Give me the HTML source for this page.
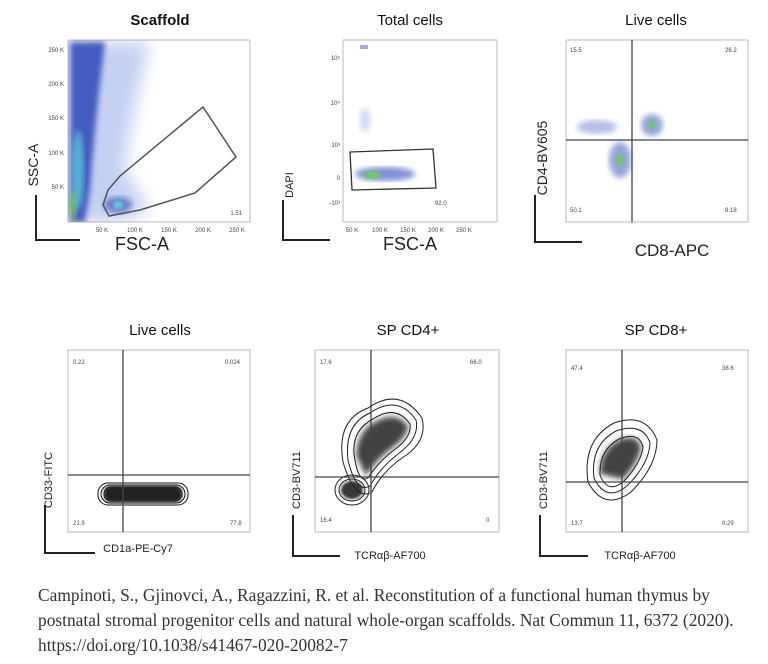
<!DOCTYPE html><html><head><style>
body{margin:0;background:#fff;width:768px;height:664px;overflow:hidden}
svg text{font-family:"Liberation Sans",sans-serif}
.cap{position:absolute;left:38px;top:583px;width:730px;font-family:"Liberation Serif",serif;font-size:17.4px;line-height:25px;color:#333;white-space:nowrap}
</style></head><body>
<svg width="768" height="580" style="position:absolute;left:0;top:0">
<defs>
<filter id="b3"><feGaussianBlur stdDeviation="3"/></filter>
<filter id="b6"><feGaussianBlur stdDeviation="8"/></filter>
<filter id="b1"><feGaussianBlur stdDeviation="1.2"/></filter>
<clipPath id="c1"><rect x="68" y="40" width="182" height="182"/></clipPath>
</defs>
<g fill="#111" text-anchor="middle" font-size="15">
<text x="160" y="25" font-weight="bold">Scaffold</text>
<text x="410" y="25">Total cells</text>
<text x="656" y="25">Live cells</text>
<text x="160" y="335">Live cells</text>
<text x="408" y="335">SP CD4+</text>
<text x="656" y="335">SP CD8+</text>
</g>
<!-- panel 1 -->
<rect x="68" y="40" width="182" height="182" fill="none" stroke="#bbb"/>
<g clip-path="url(#c1)">
<path d="M70 42 L150 42 Q130 120 125 170 L150 210 L120 222 L70 222Z" fill="#5a7ad8" opacity=".35" filter="url(#b6)"/>
<path d="M70 42 L105 42 Q95 120 90 190 L85 222 L70 222Z" fill="#2d47b8" opacity=".85" filter="url(#b3)"/>
<ellipse cx="78" cy="170" rx="6" ry="40" fill="#5ac8d8" opacity=".8" filter="url(#b3)"/>
<ellipse cx="73" cy="205" rx="4" ry="15" fill="#7ccc5a" opacity=".8" filter="url(#b3)"/>
<ellipse cx="118" cy="205" rx="14" ry="8" fill="#2d47b8" opacity=".6" filter="url(#b3)"/>
<ellipse cx="118" cy="205" rx="5" ry="4" fill="#5ac8d8" filter="url(#b1)"/>
</g>
<path d="M103 205 L108 190 L120 176 L203 107 L236 157 L195 193 L140 210 L109 216Z" fill="none" stroke="#555" stroke-width="1.5"/>
<text x="242" y="215" font-size="6" fill="#444" text-anchor="end">1.51</text>
<g font-size="6" fill="#444" text-anchor="end"><text x="64" y="52">250 K</text><text x="64" y="86">200 K</text><text x="64" y="120">150 K</text><text x="64" y="155">100 K</text><text x="64" y="189">50 K</text></g>
<g font-size="6" fill="#444" text-anchor="middle"><text x="102" y="232">50 K</text><text x="135" y="232">100 K</text><text x="169" y="232">150 K</text><text x="203" y="232">200 K</text><text x="237" y="232">250 K</text></g>
<path d="M36 195 V240 H80" fill="none" stroke="#222" stroke-width="2"/>
<text x="38" y="165" font-size="14" transform="rotate(-90 38 165)" text-anchor="middle" fill="#222">SSC-A</text>
<text x="142" y="250" font-size="18" fill="#222" text-anchor="middle">FSC-A</text>
<!-- panel 2 -->
<rect x="343" y="40" width="154" height="182" fill="none" stroke="#bbb"/>
<ellipse cx="385" cy="174" rx="30" ry="7" fill="#2d47b8" opacity=".6" filter="url(#b3)"/>
<ellipse cx="372" cy="175" rx="8" ry="4" fill="#6cc86a" filter="url(#b1)"/>
<ellipse cx="365" cy="120" rx="6" ry="12" fill="#7a90d8" opacity=".3" filter="url(#b3)"/>
<rect x="360" y="45" width="8" height="4" fill="#5a70d0" opacity=".6"/>
<path d="M350 152 L433 149 L436 188 L352 190Z" fill="none" stroke="#333" stroke-width="1.3"/>
<text x="435" y="205" font-size="6" fill="#444">92.0</text>
<g font-size="6" fill="#444" text-anchor="end"><text x="340" y="60">10⁵</text><text x="340" y="105">10⁴</text><text x="340" y="147">10³</text><text x="340" y="180">0</text><text x="340" y="205">-10³</text></g>
<g font-size="6" fill="#444" text-anchor="middle"><text x="352" y="232">50 K</text><text x="380" y="232">100 K</text><text x="408" y="232">150 K</text><text x="436" y="232">200 K</text><text x="464" y="232">250 K</text></g>
<path d="M283 200 V240 H330" fill="none" stroke="#222" stroke-width="2"/>
<text x="293" y="185" font-size="11" transform="rotate(-90 293 185)" text-anchor="middle" fill="#222">DAPI</text>
<text x="410" y="250" font-size="18" fill="#222" text-anchor="middle">FSC-A</text>
<!-- panel 3 -->
<rect x="566" y="40" width="182" height="182" fill="none" stroke="#bbb"/>
<ellipse cx="597" cy="127" rx="20" ry="7" fill="#2d47b8" opacity=".35" filter="url(#b3)"/>
<ellipse cx="652" cy="125" rx="11" ry="11" fill="#2d47b8" opacity=".5" filter="url(#b3)"/>
<ellipse cx="652" cy="125" rx="4" ry="4" fill="#6cc86a" filter="url(#b1)"/>
<ellipse cx="620" cy="160" rx="11" ry="18" fill="#2d47b8" opacity=".5" filter="url(#b3)"/>
<ellipse cx="620" cy="160" rx="4" ry="6" fill="#6cc86a" filter="url(#b1)"/>
<line x1="632" y1="40" x2="632" y2="222" stroke="#444" stroke-width="1.3"/>
<line x1="566" y1="140" x2="748" y2="140" stroke="#444" stroke-width="1.3"/>
<g font-size="6" fill="#444"><text x="570" y="52">15.5</text><text x="725" y="52">26.2</text><text x="570" y="212">50.1</text><text x="725" y="212">8.18</text></g>
<path d="M535 195 V242 H582" fill="none" stroke="#222" stroke-width="2"/>
<text x="547" y="158" font-size="14" transform="rotate(-90 547 158)" text-anchor="middle" fill="#222">CD4-BV605</text>
<text x="672" y="256" font-size="17" fill="#222" text-anchor="middle">CD8-APC</text>
<!-- panel 4 -->
<rect x="68" y="350" width="182" height="182" fill="none" stroke="#bbb"/>
<g fill="none" stroke="#111" stroke-width="1">
<rect x="98" y="483" width="90" height="22" rx="10"/><rect x="101" y="485" width="84" height="18" rx="9"/><rect x="104" y="487" width="78" height="14" rx="7"/>
</g>
<rect x="104" y="486" width="78" height="16" rx="7" fill="#222" filter="url(#b1)"/>
<line x1="123" y1="350" x2="123" y2="532" stroke="#444" stroke-width="1.3"/>
<line x1="68" y1="475" x2="250" y2="475" stroke="#444" stroke-width="1.3"/>
<g font-size="6" fill="#444"><text x="73" y="364">0.22</text><text x="225" y="364">0.024</text><text x="73" y="525">21.9</text><text x="230" y="525">77.8</text></g>
<path d="M45 505 V553 H95" fill="none" stroke="#222" stroke-width="2"/>
<text x="52" y="480" font-size="11" transform="rotate(-90 52 480)" text-anchor="middle" fill="#222">CD33-FITC</text>
<text x="138" y="552" font-size="11" fill="#222" text-anchor="middle">CD1a-PE-Cy7</text>
<!-- panel 5 -->
<rect x="315" y="350" width="184" height="182" fill="none" stroke="#bbb"/>
<g fill="none" stroke="#222" stroke-width="1">
<path d="M343 462 Q336 420 368 408 Q400 386 422 418 Q428 442 402 458 Q382 472 372 492 Q355 502 343 462Z"/>
<path d="M348 460 Q344 424 370 413 Q398 394 416 420 Q420 438 398 454 Q380 468 370 486 Q356 494 348 460Z"/>
<path d="M354 454 Q352 430 373 419 Q396 404 410 424 Q412 437 394 450 Q378 462 368 478 Q358 484 354 454Z"/>
<ellipse cx="352" cy="490" rx="17" ry="15"/><ellipse cx="352" cy="490" rx="13" ry="11"/>
</g>
<path d="M356 455 Q358 430 375 422 Q396 410 408 426 Q408 436 392 448 Q376 460 366 476Z" fill="#222" opacity=".85" filter="url(#b3)"/>
<ellipse cx="352" cy="490" rx="11" ry="9" fill="#222" opacity=".9" filter="url(#b1)"/>
<line x1="371" y1="350" x2="371" y2="532" stroke="#444" stroke-width="1.3"/>
<line x1="315" y1="477" x2="499" y2="477" stroke="#444" stroke-width="1.3"/>
<g font-size="6" fill="#444"><text x="320" y="364">17.6</text><text x="470" y="364">66.0</text><text x="320" y="522">16.4</text><text x="486" y="522">0</text></g>
<path d="M293 515 V556 H340" fill="none" stroke="#222" stroke-width="2"/>
<text x="300" y="480" font-size="11" transform="rotate(-90 300 480)" text-anchor="middle" fill="#222">CD3-BV711</text>
<text x="390" y="559" font-size="11" fill="#222" text-anchor="middle">TCRαβ-AF700</text>
<!-- panel 6 -->
<rect x="566" y="350" width="182" height="182" fill="none" stroke="#bbb"/>
<g fill="none" stroke="#222" stroke-width="1">
<path d="M588 482 Q582 440 614 423 Q646 412 657 440 Q657 466 631 492 Q604 512 588 482Z"/>
<path d="M594 478 Q590 445 616 431 Q643 422 650 443 Q649 464 627 486 Q606 503 594 478Z"/>
<path d="M600 475 Q599 450 619 439 Q639 431 643 447 Q641 463 624 481 Q608 495 600 475Z"/>
</g>
<path d="M600 474 Q600 450 619 440 Q638 433 641 448 Q638 463 623 479Z" fill="#222" opacity=".85" filter="url(#b3)"/>
<line x1="622" y1="350" x2="622" y2="532" stroke="#444" stroke-width="1.3"/>
<line x1="566" y1="482" x2="748" y2="482" stroke="#444" stroke-width="1.3"/>
<g font-size="6" fill="#444"><text x="571" y="370">47.4</text><text x="722" y="370">38.6</text><text x="571" y="525">13.7</text><text x="722" y="525">0.29</text></g>
<path d="M540 515 V556 H588" fill="none" stroke="#222" stroke-width="2"/>
<text x="547" y="480" font-size="11" transform="rotate(-90 547 480)" text-anchor="middle" fill="#222">CD3-BV711</text>
<text x="640" y="559" font-size="11" fill="#222" text-anchor="middle">TCRαβ-AF700</text>
</svg>
<div class="cap">Campinoti, S., Gjinovci, A., Ragazzini, R. et al. Reconstitution of a functional human thymus by<br>postnatal stromal progenitor cells and natural whole-organ scaffolds. Nat Commun 11, 6372 (2020).<br>https://doi.org/10.1038/s41467-020-20082-7</div>
</body></html>
